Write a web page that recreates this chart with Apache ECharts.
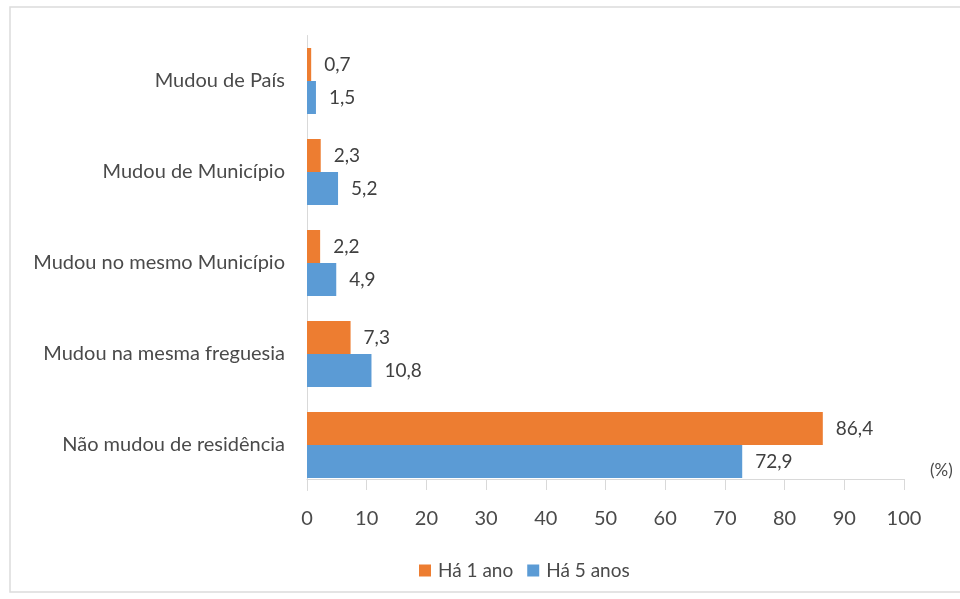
<!DOCTYPE html>
<html>
<head>
<meta charset="utf-8">
<script src="https://cdn.jsdelivr.net/npm/echarts@6/dist/echarts.min.js"></script>
<style>
  html, body { margin: 0; padding: 0; background: #ffffff; }
  #chart { width: 960px; height: 599px; }
</style>
</head>
<body>
<div id="chart"></div>
<script>
// Categories listed bottom to top on the vertical axis
const categories = [
  'Não mudou de residência',
  'Mudou na mesma freguesia',
  'Mudou no mesmo Município',
  'Mudou de Município',
  'Mudou de País'
];
const seriesNames = ['Há 1 ano', 'Há 5 anos'];
const valuesOneYear = [86.4, 7.3, 2.2, 2.3, 0.7];
const valuesFiveYears = [72.9, 10.8, 4.9, 5.2, 1.5];
const axisMin = 0;
const axisMax = 100;
const axisStep = 10;

const fontFamily = 'Lato, "Open Sans", sans-serif';
const textColor = '#4a4a4a';
const lineColor = '#d9d9d9';

const fmt = v => v.toFixed(1).replace('.', ',');

const valueLabel = {
  show: true,
  position: 'right',
  distance: 13,
  color: '#404040',
  fontSize: 19,
  fontFamily: fontFamily,
  formatter: p => fmt(p.value)
};

const chart = echarts.init(document.getElementById('chart'), null, { renderer: 'canvas' });

chart.setOption({
  backgroundColor: '#ffffff',
  animation: false,
  textStyle: { fontFamily: fontFamily },
  graphic: [{
    type: 'rect',
    shape: { x: 10, y: 7, width: 980, height: 585 },
    style: { fill: 'none', stroke: '#dcdcdc', lineWidth: 1.5 },
    silent: true,
    z: -1
  }],
  legend: {
    data: seriesNames,
    left: 414,
    top: 556,
    icon: 'rect',
    itemWidth: 12,
    itemHeight: 12,
    itemGap: 14,
    textStyle: { color: textColor, fontSize: 19, fontFamily: fontFamily, padding: [0, 0, 0, 2] }
  },
  grid: {
    left: 307,
    right: 56,
    top: 35.5,
    bottom: 108.5,
    containLabel: false
  },
  xAxis: {
    type: 'value',
    min: axisMin,
    max: axisMax,
    interval: axisStep,
    offset: -11.5,
    name: '(%)',
    nameLocation: 'end',
    nameGap: 26,
    nameTextStyle: {
      color: textColor,
      fontSize: 17,
      fontFamily: fontFamily,
      verticalAlign: 'bottom'
    },
    axisLine: { show: true, lineStyle: { color: lineColor, width: 1 } },
    axisTick: { show: true, length: 11, lineStyle: { color: lineColor } },
    axisLabel: {
      color: textColor,
      fontSize: 20,
      fontFamily: fontFamily,
      margin: 30
    },
    splitLine: { show: false }
  },
  yAxis: {
    type: 'category',
    data: categories,
    axisLine: { show: true, lineStyle: { color: lineColor, width: 1 } },
    axisTick: { show: false },
    axisLabel: {
      color: textColor,
      fontSize: 20,
      fontFamily: fontFamily,
      margin: 22
    }
  },
  series: [
    {
      name: seriesNames[0],
      type: 'bar',
      data: valuesOneYear,
      barGap: '0%',
      barCategoryGap: '27.5%',
      itemStyle: { color: '#ed7d31' },
      label: valueLabel
    },
    {
      name: seriesNames[1],
      type: 'bar',
      data: valuesFiveYears,
      barGap: '0%',
      barCategoryGap: '27.5%',
      itemStyle: { color: '#5b9bd5' },
      label: valueLabel
    }
  ]
});
</script>
</body>
</html>
